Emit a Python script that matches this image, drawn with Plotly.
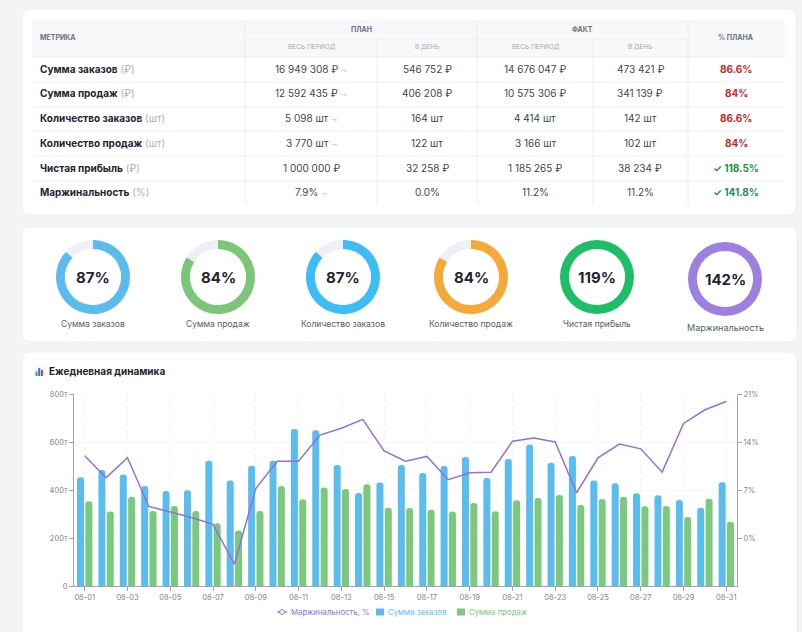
import plotly.graph_objects as go

W, H = 802, 632
FONT = "Inter, Roboto, 'DejaVu Sans', sans-serif"

# ---------------- table data ----------------
metrics = ["Сумма заказов", "Сумма продаж", "Количество заказов",
           "Количество продаж", "Чистая прибыль", "Маржинальность"]
units = ["(₽)", "(₽)", "(шт)", "(шт)", "(₽)", "(%)"]
plan_period = ["16 949 308 ₽", "12 592 435 ₽", "5 098 шт", "3 770 шт", "1 000 000 ₽", "7.9%"]
plan_editable = [True, True, True, True, False, True]
plan_day = ["546 752 ₽", "406 208 ₽", "164 шт", "122 шт", "32 258 ₽", "0.0%"]
fact_period = ["14 676 047 ₽", "10 575 306 ₽", "4 414 шт", "3 166 шт", "1 185 265 ₽", "11.2%"]
fact_day = ["473 421 ₽", "341 139 ₽", "142 шт", "102 шт", "38 234 ₽", "11.2%"]
pct_plan = [86.6, 84, 86.6, 84, 118.5, 141.8]

# ---------------- donut data ----------------
donut_labels = ["Сумма заказов", "Сумма продаж", "Количество заказов",
                "Количество продаж", "Чистая прибыль", "Маржинальность"]
donut_pct = [87, 84, 87, 84, 119, 142]
donut_colors = ["#5bbbea", "#7cc67a", "#3dbcf5", "#f5a93b", "#1fbd67", "#9d80e0"]

# ---------------- daily chart data ----------------
dates = ["08-01", "08-02", "08-03", "08-04", "08-05", "08-06", "08-07", "08-08",
         "08-09", "08-10", "08-11", "08-12", "08-13", "08-14", "08-15", "08-16",
         "08-17", "08-18", "08-19", "08-20", "08-21", "08-22", "08-23", "08-24",
         "08-25", "08-26", "08-27", "08-28", "08-29", "08-30", "08-31"]
orders_k = [453, 483, 465, 417, 396, 399, 522, 440, 501, 522, 654, 649, 504, 388,
            431, 504, 471, 500, 538, 450, 529, 590, 514, 542, 440, 428, 386, 378,
            358, 326, 432]
sales_k = [353, 310, 372, 312, 333, 312, 261, 231, 312, 417, 361, 410, 404, 424,
           326, 325, 318, 310, 346, 311, 357, 367, 379, 338, 363, 372, 332, 333,
           288, 364, 268]
margin_pct = [12.0, 8.8, 11.7, 4.6, 3.8, 3.0, 2.0, -3.8, 7.2, 11.2, 11.2, 15.0,
              16.0, 17.3, 12.7, 11.2, 11.9, 8.5, 9.5, 9.6, 14.1, 14.6, 14.0, 6.6,
              11.7, 13.7, 13.0, 9.6, 16.7, 18.7, 19.9]
left_ticks = [0, 200, 400, 600, 800]
left_ticktext = ["0", "200т", "400т", "600т", "800т"]
right_ticks = [0, 7, 14, 21]
right_ticktext = ["0%", "7%", "14%", "21%"]
series_names = ["Маржинальность, %", "Сумма заказов", "Сумма продаж"]

C_ORD = "#5bbdec"
C_SAL = "#7cc87c"
C_MAR = "#9370db"


def X(v):
    return v / W


def Y(v):
    return 1 - v / H


shapes = []
annotations = []


def rrect(x0, y0, x1, y1, r, fill, line=None):
    f = lambda a, b: f"{X(a):.5f},{Y(b):.5f}"
    path = (f"M {f(x0 + r, y0)} L {f(x1 - r, y0)} Q {f(x1, y0)} {f(x1, y0 + r)} "
            f"L {f(x1, y1 - r)} Q {f(x1, y1)} {f(x1 - r, y1)} L {f(x0 + r, y1)} "
            f"Q {f(x0, y1)} {f(x0, y1 - r)} L {f(x0, y0 + r)} Q {f(x0, y0)} {f(x0 + r, y0)} Z")
    shapes.append(dict(type="path", xref="paper", yref="paper", path=path,
                       fillcolor=fill, layer="below",
                       line=dict(color=line or fill, width=1 if line else 0)))


def rect(x0, y0, x1, y1, fill, layer="below"):
    shapes.append(dict(type="rect", xref="paper", yref="paper", x0=X(x0), x1=X(x1),
                       y0=Y(y1), y1=Y(y0), fillcolor=fill, line=dict(width=0), layer=layer))


def hline(x0, x1, y, color="#eceef2", width=1, layer="below"):
    shapes.append(dict(type="line", xref="paper", yref="paper", x0=X(x0), x1=X(x1),
                       y0=Y(y), y1=Y(y), line=dict(color=color, width=width), layer=layer))


def vline(x, y0, y1, color="#eceef2"):
    shapes.append(dict(type="line", xref="paper", yref="paper", x0=X(x), x1=X(x),
                       y0=Y(y0), y1=Y(y1), line=dict(color=color, width=1), layer="below"))


def text(x, y, s, size=10, color="#374151", anchor="center"):
    annotations.append(dict(x=X(x), y=Y(y), xref="paper", yref="paper", text=s,
                            showarrow=False, xanchor=anchor, yanchor="middle",
                            font=dict(size=size, color=color, family=FONT)))


# ---------------- cards ----------------
rrect(22, 9, 796, 215, 8, "#ffffff", "#eceef1")
rrect(22, 227, 797, 342, 8, "#ffffff", "#eceef1")
rrect(22, 352, 797, 640, 8, "#ffffff", "#eceef1")

# ---------------- table ----------------
TX0, TX1 = 32, 785
rect(TX0, 20, TX1, 57, "#f7f8fa")
vline(245, 20, 205)
vline(477, 20, 205)
vline(688, 20, 205)
vline(377, 39, 205)
vline(593, 39, 205)
hline(245, 688, 39)
row_lines = [57, 82, 107, 131, 156, 181]
for yl in row_lines:
    hline(TX0, TX1, yl)

HC = "#6b7280"
text(38, 38, "<b>МЕТРИКА</b>", 7, HC, "left")
text(361, 29, "<b>ПЛАН</b>", 7, HC)
text(582, 29, "<b>ФАКТ</b>", 7, HC)
text(736, 38, "<b>% ПЛАНА</b>", 7, HC)
for cx, lab in zip([311, 427, 535, 640], ["ВЕСЬ ПЕРИОД", "В ДЕНЬ", "ВЕСЬ ПЕРИОД", "В ДЕНЬ"]):
    text(cx, 47, lab, 6.5, "#a3a9b3")

row_y = [69, 93, 118, 143, 168, 192]
for i, ry in enumerate(row_y):
    text(38, ry, f"<b>{metrics[i]}</b> <span style='color:#a9afba'>{units[i]}</span>",
         10, "#1f2430", "left")
    pv = plan_period[i]
    if plan_editable[i]:
        pv += " <span style='color:#b8bcc4;font-size:7px'>⊸</span>"
    text(311, ry, pv, 10, "#3f4651")
    text(427, ry, plan_day[i], 10, "#3f4651")
    text(535, ry, fact_period[i], 10, "#3f4651")
    text(640, ry, fact_day[i], 10, "#3f4651")
    p = pct_plan[i]
    ps = f"{p:g}%"
    if p >= 100:
        text(736, ry, f"<b>✓ {ps}</b>", 10, "#1e8e4a")
    else:
        text(736, ry, f"<b>{ps}</b>", 10, "#c62828")

# ---------------- donuts ----------------
donut_cx = [93, 218, 343, 471, 597, 725]
donut_cy = [277, 277, 277, 277, 277, 279]
R = 37
pies = []
for i in range(6):
    cx, cy = donut_cx[i], donut_cy[i]
    p = donut_pct[i]
    pies.append(go.Pie(values=[min(p, 100), max(0, 100 - p)],
                       marker=dict(colors=[donut_colors[i], "#edf0f5"], line=dict(width=0)),
                       hole=0.76, sort=False, direction="clockwise", rotation=0,
                       textinfo="none", hoverinfo="skip", showlegend=False,
                       domain=dict(x=[X(cx - R), X(cx + R)], y=[Y(cy + R), Y(cy - R)])))
    text(cx, cy, f"<b>{p}%</b>", 15, "#1f2430")
    ly = 327 if i == 5 else 324
    text(cx, ly, donut_labels[i], 9 if i == 5 else 8.5, "#555b66")

# ---------------- chart title ----------------
rect(35, 367, 43.5, 376.5, "#f1f3f6")
rect(35.5, 371.5, 37.5, 376, "#3fae49")
rect(38.2, 368, 40.2, 376, "#2b7bd6")
rect(40.9, 370, 42.9, 376, "#d9363e")
text(47, 371, "<b>Ежедневная динамика</b>", 10, "#1f2430", "left")

# ---------------- legend (compact, as in the reference) ----------------
LY = 612
hline(277, 287, LY, C_MAR, 1.2, "above")
shapes.append(dict(type="circle", xref="paper", yref="paper", x0=X(279.6), x1=X(284.4),
                   y0=Y(LY + 2.4), y1=Y(LY - 2.4), fillcolor="#ffffff",
                   line=dict(color=C_MAR, width=1), layer="above"))
text(289, LY, series_names[0], 7.8, C_MAR, "left")
rect(376, LY - 3.5, 384, LY + 3.5, C_ORD, "above")
text(386, LY, series_names[1], 7.8, C_ORD, "left")
rect(457, LY - 3.5, 465, LY + 3.5, C_SAL, "above")
text(467, LY, series_names[2], 7.8, C_SAL, "left")

# ---------------- chart ----------------
fig = go.Figure()
for pie in pies:
    fig.add_trace(pie)

fig.add_trace(go.Bar(x=dates, y=orders_k, name=series_names[1], showlegend=False,
                     marker=dict(color=C_ORD, cornerradius=3, line=dict(width=0))))
fig.add_trace(go.Bar(x=dates, y=sales_k, name=series_names[2], showlegend=False,
                     marker=dict(color=C_SAL, cornerradius=3, line=dict(width=0))))
fig.add_trace(go.Scatter(x=dates, y=margin_pct, mode="lines", yaxis="y2",
                         name=series_names[0], showlegend=False,
                         line=dict(color=C_MAR, width=1.5)))

AX = "#a0a4ab"
TF = dict(size=7.5, color="#80858d", family=FONT)
fig.update_layout(
    width=W, height=H, margin=dict(l=0, r=0, t=0, b=0, autoexpand=False),
    paper_bgcolor="#f3f4f6", plot_bgcolor="rgba(0,0,0,0)",
    font=dict(family=FONT),
    shapes=shapes, annotations=annotations, showlegend=False,
    barmode="group", bargap=0.22, bargroupgap=0.16,
    xaxis=dict(domain=[X(74), X(737)], type="category", range=[-0.5, 30.5],
               tickvals=dates[::2], tickfont=TF, showline=True, linecolor=AX,
               ticks="outside", ticklen=4, tickcolor=AX, showgrid=True,
               gridcolor="#f3f4f6", griddash="dot", zeroline=False, fixedrange=True,
               automargin=False),
    yaxis=dict(domain=[Y(586), Y(394)], range=[0, 800], tickvals=left_ticks,
               ticktext=left_ticktext, tickfont=TF, showline=True, linecolor=AX,
               ticks="outside", ticklen=4, tickcolor=AX, showgrid=True,
               gridcolor="#f6f7f8", zeroline=False, fixedrange=True, automargin=False),
    yaxis2=dict(overlaying="y", side="right", anchor="x", range=[-7, 21],
                tickvals=right_ticks, ticktext=right_ticktext, tickfont=TF,
                showline=True, linecolor=AX, ticks="outside", ticklen=4, tickcolor=AX,
                showgrid=False, zeroline=False, fixedrange=True, automargin=False),
    hovermode=False,
)

fig.write_html("out.html", config={"displayModeBar": False},
               post_script="document.body.style.margin='0';document.body.style.overflow='hidden';")
